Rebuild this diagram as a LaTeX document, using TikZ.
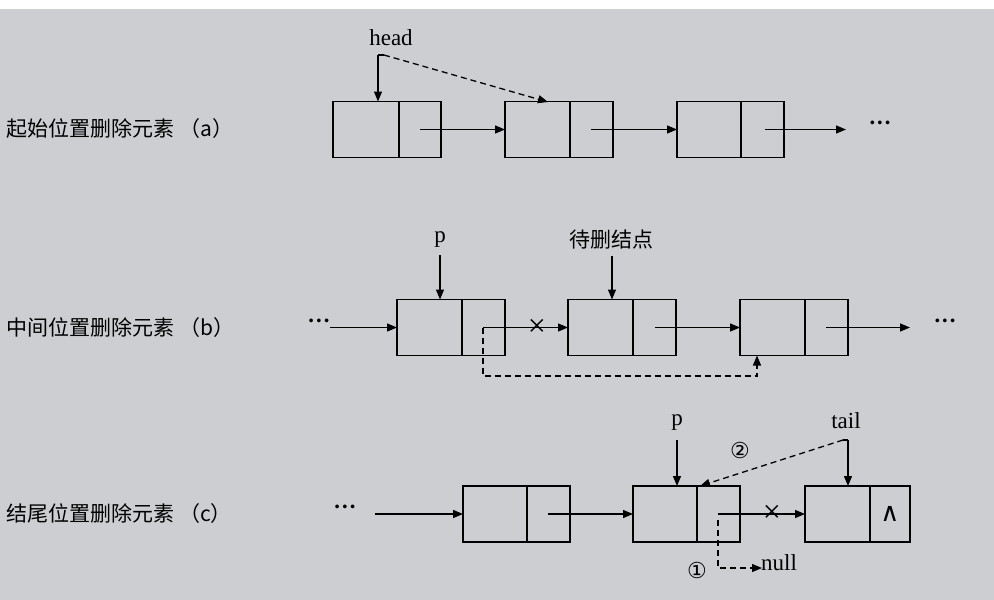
\documentclass[tikz,border=0pt]{standalone}
\usepackage{fontspec}
\setmainfont{Liberation Serif}
\newfontfamily\cjk{Noto Sans CJK SC}
\newfontfamily\dejav{DejaVu Sans}
\usetikzlibrary{arrows.meta}
\begin{document}
\begin{tikzpicture}[x=1pt,y=-1pt,
  cell/.style={draw,line width=1.3pt,minimum width=#1,minimum height=56pt,inner sep=0pt,outer sep=0pt},
  ar/.style={-{Triangle[length=10pt,width=8pt]},line width=1.3pt},
  dar/.style={-{Triangle[length=10pt,width=8pt]},line width=1.3pt,dash pattern=on 6pt off 4pt},
  lbl/.style={font=\fontsize{21}{21}\selectfont\cjk,anchor=west},
  tx/.style={font=\fontsize{23}{23}\selectfont},
  dots/.style={font=\fontsize{23}{23}\selectfont\bfseries},
  crs/.style={font=\fontsize{32}{32}\selectfont,inner sep=0pt},
  num/.style={font=\fontsize{22}{22}\selectfont\dejav}]
\fill[white] (0,0) rectangle (994,600);
\fill[fill={rgb,255:red,205;green,206;blue,210}] (0,9) rectangle (994,600);
\useasboundingbox (0,0) rectangle (994,600);
% row a
\node[cell=66pt,anchor=west] (a1l) at (333,129.5) {};
\node[cell=42pt,anchor=west] (a1r) at (399,129.5) {};
\node[cell=65pt,anchor=west] (a2l) at (505,129.5) {};
\node[cell=43pt,anchor=west] (a2r) at (570,129.5) {};
\node[cell=64pt,anchor=west] (a3l) at (677,129.5) {};
\node[cell=43pt,anchor=west] (a3r) at (741,129.5) {};
\node[dots] (adots) at (880,126) {···};
\node[lbl] (la) at (3,129) {起始位置删除元素 （a）};
\node[tx] (head) at (391,38) {head};
\coordinate (hc) at (378,55);
\coordinate (hd) at (384,55);
\draw[ar] (hc) -- (a1l.north -| hc);
\draw[line width=1.3pt] (hc) -- (hd);
\draw[dar] (hd) -- (548,102);
\coordinate (pa1) at (420,129.5);
\coordinate (pa2) at (591,129.5);
\coordinate (pa3) at (765,129.5);
\draw[ar] (pa1) -- (a2l.west);
\draw[ar] (pa2) -- (a3l.west);
\coordinate (ea) at (846,129.5);
\draw[ar] (pa3) -- (ea);
% row b
\node[cell=65pt,anchor=west] (b1l) at (397,327.5) {};
\node[cell=43pt,anchor=west] (b1r) at (462,327.5) {};
\node[cell=65pt,anchor=west] (b2l) at (568,327.5) {};
\node[cell=43pt,anchor=west] (b2r) at (633,327.5) {};
\node[cell=65pt,anchor=west] (b3l) at (740,327.5) {};
\node[cell=43pt,anchor=west] (b3r) at (805,327.5) {};
\node[lbl] (lb) at (3,328) {中间位置删除元素 （b）};
\node[dots] (bd1) at (319,324) {···};
\node[dots] (bd2) at (945,324) {···};
\coordinate (sb) at (330,327.5);
\draw[ar] (sb) -- (b1l.west);
\coordinate (pb1) at (483,327.5);
\coordinate (pb2) at (655,327.5);
\coordinate (pb3) at (826,327.5);
\draw[ar] (pb1) -- (b2l.west);
\node[crs] (xb) at (537,327.5) {×};
\draw[ar] (pb2) -- (b3l.west);
\coordinate (eb) at (910,327.5);
\draw[ar] (pb3) -- (eb);
\node[tx] (pB) at (440,240) {p};
\draw[ar] (440,255) -- (b1l.north -| pB);
\node[font=\fontsize{21}{21}\selectfont\cjk] (dn) at (611,240) {待删结点};
\draw[ar] (612,256) -- (b2l.north -| 612,0);
\draw[dar] (pb1) -- (483,376) -- (757,376) -- (b3l.south -| 757,0);
% row c
\node[cell=64pt,anchor=west] (c1l) at (463,514) {};
\node[cell=43pt,anchor=west] (c1r) at (527,514) {};
\node[cell=64pt,anchor=west] (c2l) at (633,514) {};
\node[cell=43pt,anchor=west] (c2r) at (697,514) {};
\node[cell=65pt,anchor=west] (c3l) at (805,514) {};
\node[cell=40pt,anchor=west,font=\fontsize{26}{26}\selectfont\dejav] (c3r) at (870,514) {∧};
\node[lbl] (lc) at (3,514) {结尾位置删除元素 （c）};
\node[dots] (cd1) at (345,510) {···};
\draw[ar] (375,514) -- (c1l.west);
\coordinate (pc1) at (548,514);
\coordinate (pc2) at (718,514);
\draw[ar] (pc1) -- (c2l.west);
\draw[ar] (pc2) -- (c3l.west);
\node[crs] (xc) at (772,514) {×};
\node[tx] (pC) at (677,423) {p};
\draw[ar] (677,440) -- (c2l.north -| 677,0);
\node[tx] (tail) at (846,421) {tail};
\coordinate (tc) at (848,440);
\draw[ar] (tc) -- (c3l.north -| tc);
\draw[line width=1.3pt] (tc) -- (843,440);
\draw[dar] (843,440) -- (700,486);
\node[num] (c2n) at (740,450) {②};
\draw[dar] (718,520) -- (718,568) -- (762,568);
\node[tx,anchor=west,inner sep=1pt] (null) at (760,563) {null};
\node[num] (c1n) at (697,570) {①};
\end{tikzpicture}
\end{document}
